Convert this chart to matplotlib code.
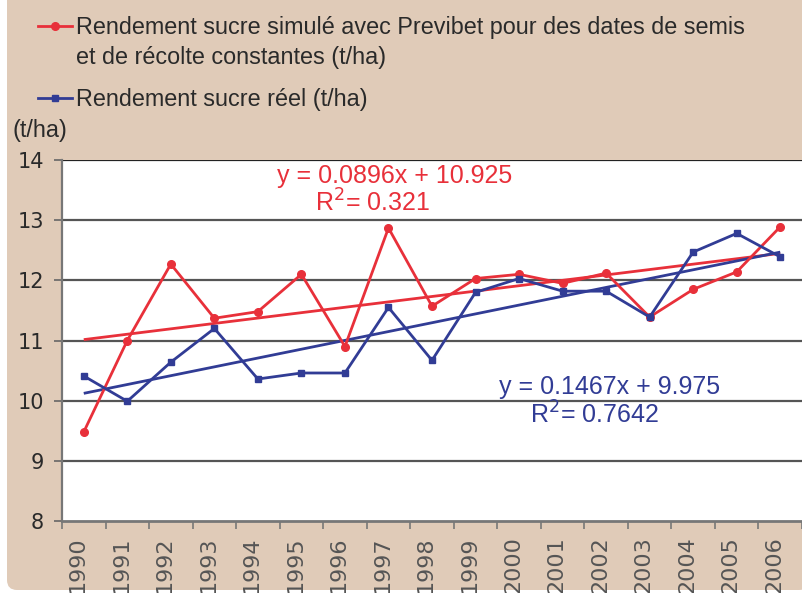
import matplotlib
matplotlib.use("Agg")
import matplotlib.pyplot as plt
import numpy as np
from matplotlib.patches import FancyBboxPatch
from matplotlib.lines import Line2D
from matplotlib.transforms import ScaledTranslation

years = [str(y) for y in range(1990, 2007)]
simule = [9.48, 11.0, 12.27, 11.37, 11.48, 12.1, 10.9, 12.87, 11.57, 12.03,
          12.1, 11.95, 12.12, 11.39, 11.85, 12.14, 12.89]
reel = [10.41, 9.99, 10.64, 11.2, 10.36, 10.46, 10.46, 11.55, 10.67, 11.8,
        12.03, 11.82, 11.82, 11.39, 12.47, 12.78, 12.39]
trend_simule = (0.0896, 10.925, 0.321)
trend_reel = (0.1467, 9.975, 0.7642)
label_simule_1 = "Rendement sucre simulé avec Previbet pour des dates de semis"
label_simule_2 = "et de récolte constantes (t/ha)"
label_reel = "Rendement sucre réel (t/ha)"

RED = "#e8303a"
BLUE = "#313c95"
BEIGE = "#e0cbb8"
TXT = "#2a2a2a"
FS = 16.8
FS_EQ = 18

plt.rcParams['font.family'] = ['Liberation Sans', 'DejaVu Sans']

W, H = 802, 593
fig = plt.figure(figsize=(W / 100, H / 100), dpi=100, facecolor="white")

bg = FancyBboxPatch((7, 3), W, H + 20,
                    boxstyle="round,pad=0,rounding_size=10",
                    transform=None, facecolor=BEIGE, edgecolor="none", zorder=-5)
fig.patches.append(bg)

left, right, top, bottom = 62, 802, 160, 521
ax = fig.add_axes([left / W, (H - bottom) / H, (right - left) / W, (bottom - top) / H])
ax.set_zorder(2)
ax.set_facecolor("white")

x = np.arange(len(years))
xn = x + 1

for (slope, icpt, r2), col in [(trend_simule, RED), (trend_reel, BLUE)]:
    ax.plot(x, slope * xn + icpt, color=col, lw=2.0, zorder=3, solid_capstyle="butt")

ax.plot(x, simule, color=RED, lw=2.0, marker="o", ms=5.5, zorder=4)
ax.plot(x, reel, color=BLUE, lw=2.0, marker="s", ms=5, zorder=4)

ax.set_xlim(-0.5, len(years) - 0.5)
ax.set_ylim(8, 14)
ax.set_yticks(range(8, 15))
ax.set_yticklabels([str(v) for v in range(8, 15)], family="DejaVu Sans", fontsize=15, color=TXT)
ax.tick_params(axis="y", colors="#666666", labelcolor=TXT, length=6, width=1.2, pad=7, direction="out")
for yv in range(9, 14):
    ax.axhline(yv, color="#555555", lw=1.6, zorder=1)
ax.axhline(14, color="#222222", lw=1.6, zorder=1)

ax.set_xticks(x)
ax.set_xticklabels(years, rotation=90, fontsize=16, family="DejaVu Sans", color="#555555", va="top")
ax.tick_params(axis="x", length=0, pad=11)
off = ScaledTranslation(-6 / 100, 0, fig.dpi_scale_trans)
for lab in ax.get_xticklabels():
    lab.set_transform(lab.get_transform() + off)
ax.set_xticks(np.arange(-0.5, len(years) - 0.4, 1), minor=True)
ax.tick_params(axis="x", which="minor", length=6, width=1.2, colors="#777777", direction="out")

for s in ["top", "right"]:
    ax.spines[s].set_visible(False)
ax.spines["left"].set_color("#777777")
ax.spines["left"].set_linewidth(1.6)
ax.spines["bottom"].set_color("#777777")
ax.spines["bottom"].set_linewidth(2.0)

ax.text(7.13, 13.73, "y = %.4fx + %.3f" % trend_simule[:2], color=RED, fontsize=FS_EQ, ha="center", va="center")
ax.text(6.64, 13.28, "R$^{2}$= %.3f" % trend_simule[2], color=RED, fontsize=FS_EQ, ha="center", va="center")
ax.text(12.09, 10.22, "y = %.4fx + %.3f" % trend_reel[:2], color=BLUE, fontsize=FS_EQ, ha="center", va="center")
ax.text(11.74, 9.77, "R$^{2}$= %.4f" % trend_reel[2], color=BLUE, fontsize=FS_EQ, ha="center", va="center")

fig.text(12 / W, 1 - 130 / H, "(t/ha)", fontsize=FS, color=TXT, va="center", ha="left")

handles = [Line2D([], [], color=RED, lw=2.0, marker="o", ms=5.5),
           Line2D([], [], color=BLUE, lw=2.0, marker="s", ms=5)]
leg = fig.legend(handles, [label_simule_1, label_reel], loc="upper left",
                 bbox_to_anchor=(38 / W, 1 - 16 / H), frameon=False, fontsize=FS,
                 handlelength=1.46, handletextpad=0.17, labelspacing=2.09, labelcolor=TXT,
                 borderpad=0, borderaxespad=0)
fig.canvas.draw()
bb = leg.get_texts()[0].get_window_extent()
fig.text(bb.x0 / W, (bb.y0 - 30) / H, label_simule_2, fontsize=FS, color=TXT,
         ha="left", va="bottom")

fig.savefig("out.png", dpi=100, facecolor="white")
